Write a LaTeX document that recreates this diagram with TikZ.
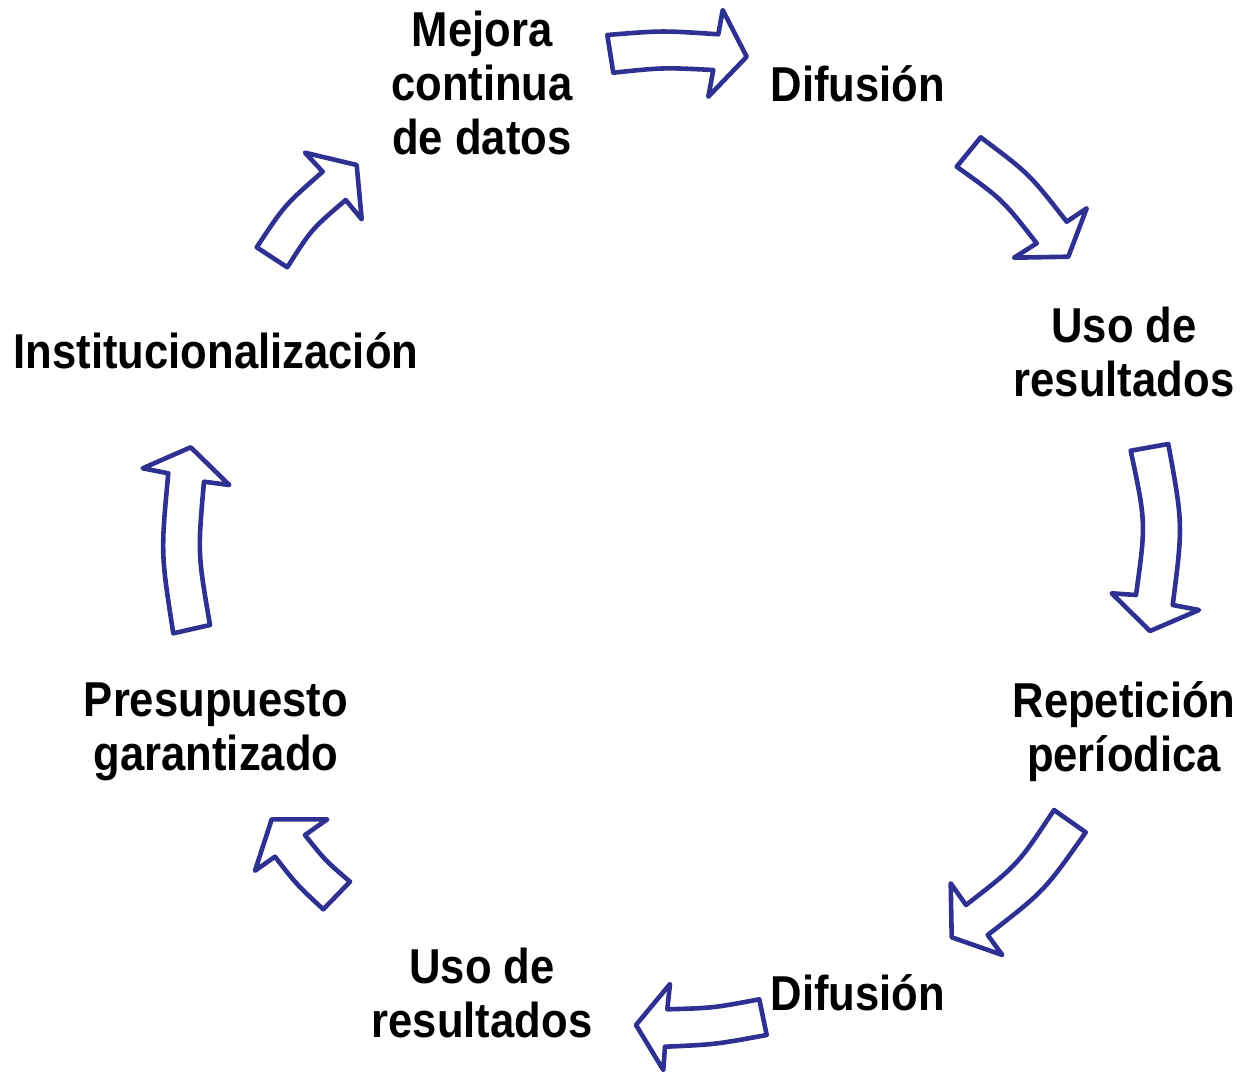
\documentclass[tikz,border=0pt]{standalone}
\usepackage{fontspec}
\setmainfont{Liberation Sans}[FakeStretch=0.89]
\definecolor{arrowblue}{RGB}{46,49,146}
\begin{document}
\begin{tikzpicture}[x=1pt,y=-1pt,
  lbl/.style={anchor=base,align=center,inner sep=0pt,font=\fontsize{49}{54}\selectfont\bfseries},
  blockarrow/.style={draw=arrowblue,fill=white,line width=4.6pt,line join=round}]
\useasboundingbox (0,0) rectangle (1243,1074);

\node[lbl] (mejora) at (482,154) {Mejora\\continua\\de datos};
\node[lbl] (dif1) at (858,101) {Difusión};
\node[lbl] (uso1) at (1124,396) {Uso de\\resultados};
\node[lbl] (rep) at (1124,771) {Repetición\\períodica};
\node[lbl] (dif2) at (858,1010) {Difusión};
\node[lbl] (uso2) at (482,1037) {Uso de\\resultados};
\node[lbl] (pres) at (216,770) {Presupuesto\\garantizado};
\node[lbl] (inst) at (216,368) {Institucionalización};

% arrow 1
\draw[blockarrow] (607.3,35) .. controls (662,30.5) .. (718.3,34.3) -- (722.7,10) -- (746.7,56.7) -- (708.3,96.7) -- (713.3,70) .. controls (663,67.5) .. (613.3,72.7) -- cycle;
% arrow 2
\draw[blockarrow] (980.7,137.3) .. controls (1029.3,173.8) .. (1066.7,221.7) -- (1086.7,208.3) -- (1068.3,256.7) -- (1014,257.7) -- (1036.7,243.3) .. controls (1002.3,199.3) .. (956.7,166.7) -- cycle;
% arrow 3
\draw[blockarrow] (1168.3,444) .. controls (1183,524.5) .. (1172.7,605) -- (1199,610) -- (1150,631) -- (1111.7,593.3) -- (1136,595) .. controls (1146,522.8) .. (1130.7,450.7) -- cycle;
% arrow 4
\draw[blockarrow] (1085.7,832.3) .. controls (1044.4,891) .. (987.7,935) -- (1002.3,955) -- (951.7,937.3) -- (950.7,883.3) -- (966,905) .. controls (1017.7,864.9) .. (1054,810) -- cycle;
% arrow 5
\draw[blockarrow] (766.7,1035) .. controls (715,1044.5) .. (665,1046.7) -- (663.3,1070) -- (636,1025) -- (670,984) -- (667.3,1009.3) .. controls (713,1008) .. (759.3,999.3) -- cycle;
% arrow 6
\draw[blockarrow] (271.7,819.3) -- (327.3,819.3) -- (305,835) .. controls (325.3,860.5) .. (350,881.7) -- (323.3,909.3) .. controls (297,885) .. (275,856.7) -- (255,870.7) -- cycle;
% arrow 7
\draw[blockarrow] (190.7,447.3) -- (229.3,485) -- (204,481.7) .. controls (197.7,553.3) .. (210,625) -- (173.3,633.3) .. controls (160.8,553.3) .. (168.3,473.3) -- (142.7,468.3) -- cycle;
% arrow 8
\draw[blockarrow] (305,152.7) -- (356.7,165) -- (361.7,219.3) -- (345.7,200) .. controls (311.4,229.3) .. (287.3,267.3) -- (256.7,247.3) .. controls (284.6,205.1) .. (322.7,171.7) -- cycle;
\end{tikzpicture}
\end{document}
